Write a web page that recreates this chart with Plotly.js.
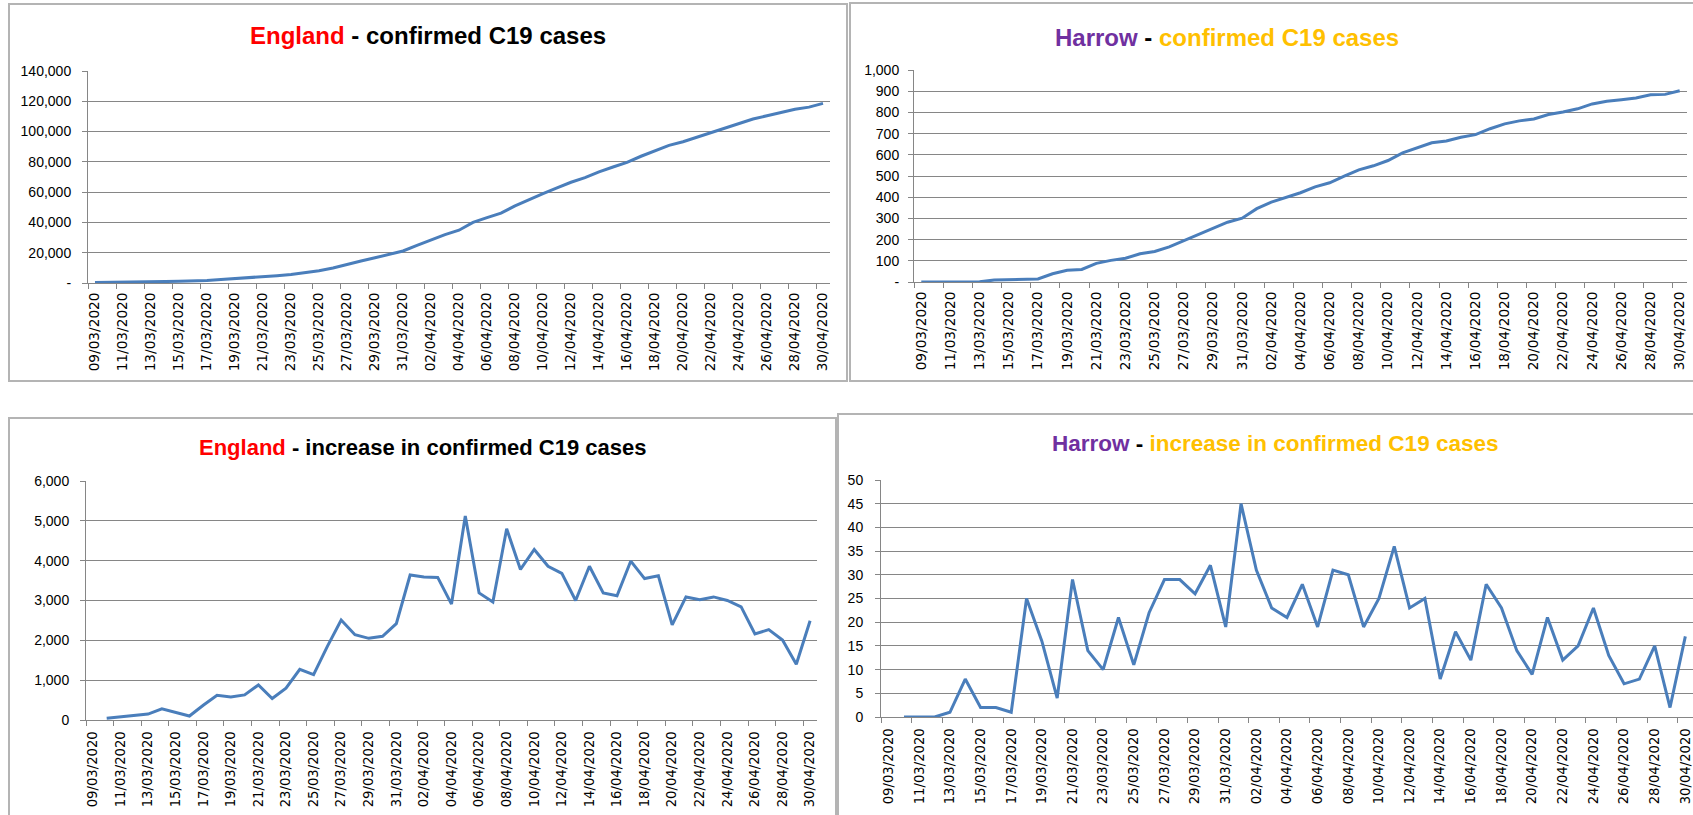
<!DOCTYPE html>
<html><head><meta charset="utf-8">
<script src="https://cdn.plot.ly/plotly-3.0.1.min.js"></script>
<style>html,body{margin:0;padding:0;overflow:hidden;background:#fff}#chart{width:1693px;height:815px}</style>
</head><body><div id="chart"></div>
<script>
const dates = ['09/03/2020','10/03/2020','11/03/2020','12/03/2020','13/03/2020','14/03/2020','15/03/2020','16/03/2020','17/03/2020','18/03/2020','19/03/2020','20/03/2020','21/03/2020','22/03/2020','23/03/2020','24/03/2020','25/03/2020','26/03/2020','27/03/2020','28/03/2020','29/03/2020','30/03/2020','31/03/2020',
'01/04/2020','02/04/2020','03/04/2020','04/04/2020','05/04/2020','06/04/2020','07/04/2020','08/04/2020','09/04/2020','10/04/2020','11/04/2020','12/04/2020','13/04/2020','14/04/2020','15/04/2020','16/04/2020','17/04/2020','18/04/2020','19/04/2020','20/04/2020','21/04/2020','22/04/2020','23/04/2020','24/04/2020','25/04/2020','26/04/2020','27/04/2020','28/04/2020','29/04/2020','30/04/2020'];

const englandCumulative = [270,315,395,525,675,955,1145,1245,1615,2235,2815,3445,4325,4865,5665,6935,8075,9925,12435,14575,16625,18725,21145,
24785,28375,31955,34865,39985,43175,46135,50935,54715,58995,62855,66535,69535,73395,76585,79705,83695,87245,90865,93255,96345,99365,102455,105455,108295,110455,112725,114735,116135,118625];

const harrowCumulative = [0,0,0,0,1,9,11,13,14,39,55,59,88,102,112,133,144,166,195,224,250,282,301,
346,377,400,421,449,468,499,529,548,573,609,632,657,665,683,695,723,746,760,769,790,802,817,840,853,860,868,883,885,902];

const englandIncrease = [null,45,80,130,150,280,190,100,370,620,580,630,880,540,800,1270,1140,1850,2510,2140,2050,2100,2420,
3640,3590,3580,2910,5120,3190,2960,4800,3780,4280,3860,3680,3000,3860,3190,3120,3990,3550,3620,2390,3090,3020,3090,3000,2840,2160,2270,2010,1400,2490];

const harrowIncrease = [null,0,0,0,1,8,2,2,1,25,16,4,29,14,10,21,11,22,29,29,26,32,19,
45,31,23,21,28,19,31,30,19,25,36,23,25,8,18,12,28,23,14,9,21,12,15,23,13,7,8,15,2,17];

const engCumTickVals = [0,20000,40000,60000,80000,100000,120000,140000];
const engCumTickText = ['-','20,000','40,000','60,000','80,000','100,000','120,000','140,000'];
const harCumTickVals = [0,100,200,300,400,500,600,700,800,900,1000];
const harCumTickText = ['-','100','200','300','400','500','600','700','800','900','1,000'];
const engIncTickVals = [0,1000,2000,3000,4000,5000,6000];
const engIncTickText = ['0','1,000','2,000','3,000','4,000','5,000','6,000'];
const harIncTickVals = [0,5,10,15,20,25,30,35,40,45,50];
const harIncTickText = ['0','5','10','15','20','25','30','35','40','45','50'];

const W = 1693, H = 815;
const px = v => v / W;
const py = v => 1 - v / H;

const LINE = {color:'#4A7EBB', width:3};
const GRID = '#868686';

function trace(y, xa, ya){
  return {type:'scatter', mode:'lines', x:dates, y:y, xaxis:xa, yaxis:ya, line:LINE, connectgaps:false, hoverinfo:'skip'};
}
function xAxis(l, r, anchor, fs, standoff){
  return {domain:[px(l), Math.min(1, px(r))], anchor:anchor, type:'category', categoryorder:'array', categoryarray:dates,
    range:[-0.5, 52.5], tickmode:'linear', tick0:0, dtick:2, tickson:'boundaries', ticks:'outside', ticklen:5,
    tickcolor:GRID, tickwidth:1, showline:true, linecolor:GRID, linewidth:1, showgrid:false, zeroline:false,
    tickangle:-90, ticklabelstandoff:standoff, tickfont:{family:'DejaVu Sans', size:fs, color:'#000'}, automargin:false, fixedrange:true};
}
function yAxis(t, b, anchor, max, vals, text, standoff){
  return {domain:[py(b), py(t)], anchor:anchor, range:[0, max], tickmode:'array', tickvals:vals, ticktext:text,
    ticks:'outside', ticklen:5, tickcolor:GRID, tickwidth:1, showline:true, linecolor:GRID, linewidth:1,
    showgrid:true, gridcolor:GRID, gridwidth:1, zeroline:false, ticklabelstandoff:standoff,
    tickfont:{family:'Liberation Sans', size:14, color:'#000'}, automargin:false, fixedrange:true};
}
function panel(x0, y0, x1, y1){
  return {type:'rect', xref:'paper', yref:'paper', x0:px(x0), x1:px(x1), y0:py(y1), y1:py(y0),
    line:{color:'#B4B4B4', width:2}, fillcolor:'rgba(0,0,0,0)', layer:'below'};
}
function title(text, cx, cy, size){
  return {xref:'paper', yref:'paper', x:px(cx), y:py(cy), xanchor:'center', yanchor:'middle', showarrow:false,
    text:text, font:{family:'Liberation Sans', size:size, color:'#000', weight:'bold'}};
}

const data = [
  trace(englandCumulative, 'x', 'y'),
  trace(harrowCumulative, 'x2', 'y2'),
  trace(englandIncrease, 'x3', 'y3'),
  trace(harrowIncrease, 'x4', 'y4')
];

const layout = {
  width:W, height:H, margin:{l:0, r:0, t:0, b:0}, paper_bgcolor:'#fff', plot_bgcolor:'#fff', showlegend:false,
  xaxis: xAxis(88, 830, 'y', 13.7, 3),
  yaxis: yAxis(71, 283, 'x', 140000, engCumTickVals, engCumTickText, 8),
  xaxis2: xAxis(914, 1687, 'y2', 13.7, 3),
  yaxis2: yAxis(70, 282, 'x2', 1000, harCumTickVals, harCumTickText, 6),
  xaxis3: xAxis(86, 817, 'y3', 13.2, 5),
  yaxis3: yAxis(481, 720, 'x3', 6000, engIncTickVals, engIncTickText, 8),
  xaxis4: xAxis(881, 1694, 'y4', 13.2, 5),
  yaxis4: yAxis(480, 717, 'x4', 50, harIncTickVals, harIncTickText, 9),
  shapes: [panel(9,4,847,381), panel(850,3,1730,381), panel(9,418,836,850), panel(838,414,1730,850)],
  annotations: [
    title('<span style="color:#FF0000">England</span> - confirmed C19 cases', 428, 36, 24),
    title('<span style="color:#7030A0">Harrow</span> - <span style="color:#FFC000">confirmed C19 cases</span>', 1227, 38, 24),
    title('<span style="color:#FF0000">England</span> - increase in confirmed C19 cases', 423, 447, 22),
    title('<span style="color:#7030A0">Harrow</span> - <span style="color:#FFC000">increase in confirmed C19 cases</span>', 1275, 444, 22.5)
  ]
};

Plotly.newPlot('chart', data, layout, {staticPlot:true, displayModeBar:false});
</script>
</body></html>
